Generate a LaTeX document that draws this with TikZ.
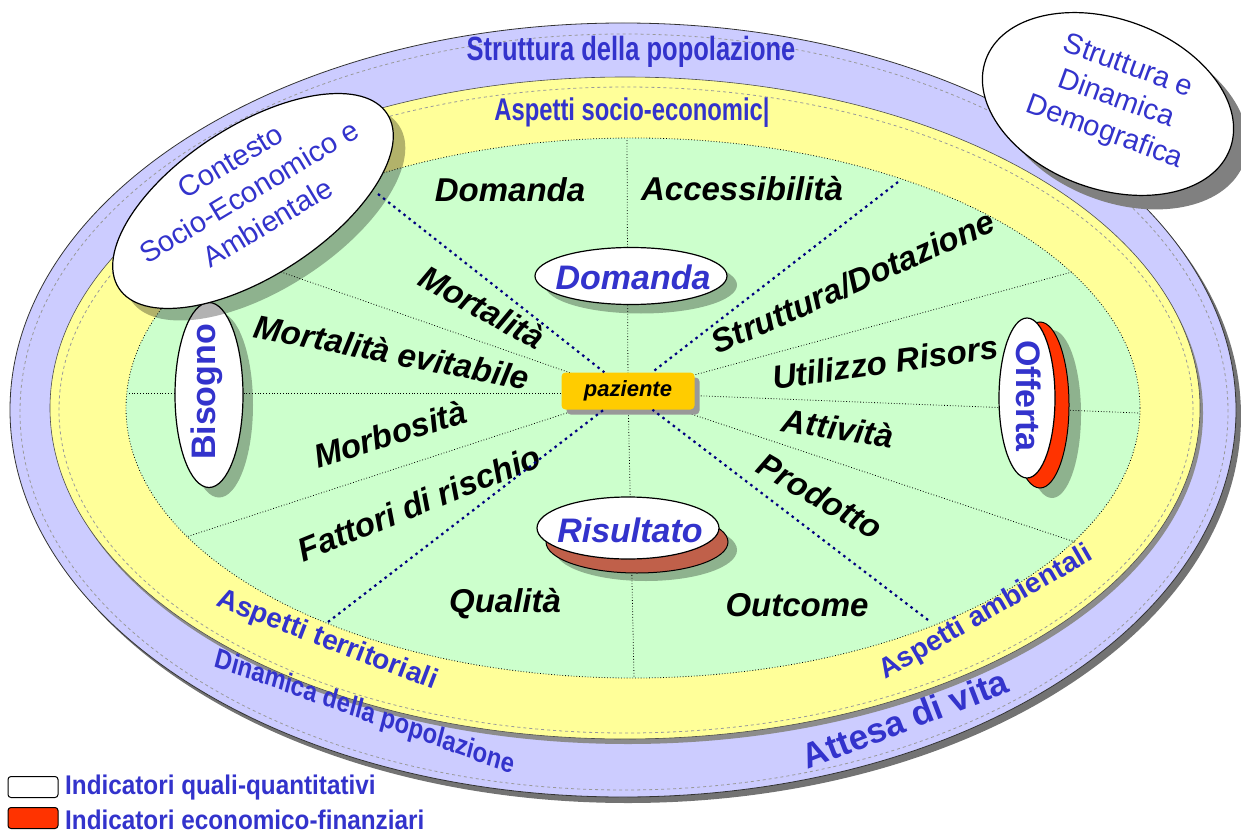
\documentclass[tikz,border=0pt]{standalone}
\usepackage{fontspec}
\setmainfont{Liberation Sans}
\usetikzlibrary{shapes.geometric}
\definecolor{lav}{HTML}{CCCCFF}
\definecolor{yel}{HTML}{FFFF99}
\definecolor{grn}{HTML}{CCFFCC}
\definecolor{tblue}{HTML}{3333CC}
\definecolor{navy}{HTML}{000080}
\definecolor{paz}{HTML}{FFCC00}
\definecolor{rosso}{HTML}{FF3300}
\definecolor{bruno}{HTML}{C0604A}
% [style]{name}{x}{y}{angle}{text}
\newcommand\lbl[6][]{%
  \node[blk,#1,rotate=#5] (#2) at (#3,#4) {#6};}
\begin{document}
\begin{tikzpicture}[x=1pt,y=-1pt,
  ell/.style={ellipse, inner sep=0pt, outer sep=0pt},
  spoke/.style={black, line width=0.8pt, dotted},
  navyline/.style={navy, line width=2.2pt, dash pattern=on 2.5pt off 4pt},
  oval/.style={ell, draw=black, line width=1.2pt, fill=white},
  shadowell/.style={ell, fill=black, fill opacity=0.3},
  blk/.style={font=\fontsize{33}{33}\selectfont\bfseries\itshape, inner sep=0pt},
  bluebig/.style={font=\fontsize{34}{34}\selectfont\bfseries\itshape, text=tblue},
  blueup/.style={font=\fontsize{34}{34}\selectfont\bfseries, text=tblue},
  ringlbl/.style={font=\fontsize{28}{28}\selectfont\bfseries, text=tblue, inner sep=0pt},
  ovaltxt/.style={font=\fontsize{29}{36}\selectfont, text=tblue, align=center},
  legbox/.style={draw=black, line width=1pt, rounded corners=3pt, minimum width=50pt, minimum height=21pt, inner sep=0pt},
  legtxt/.style={font=\fontsize{27}{27}\selectfont\bfseries, text=tblue, anchor=west, xscale=0.9, inner sep=0pt},
]
\useasboundingbox (0,0) rectangle (1241,834);
% ---- outer lavender ring
\node[ell, fill=black!55, minimum width=1226pt, minimum height=774pt] (outersh) at (628,416) {};
\node[ell, fill=lav, draw=black!80, line width=0.8pt, minimum width=1226pt, minimum height=774pt] (outer) at (623,410) {};
\node[ell, draw=black!40, dashed, line width=0.8pt, minimum width=1208pt, minimum height=756pt] (outerd) at (624,412) {};
% ---- yellow ring
\node[ell, fill=black!45, minimum width=1150pt, minimum height=662pt] (yellowsh) at (628,413) {};
\node[ell, fill=yel, draw=black!70, line width=0.6pt, minimum width=1150pt, minimum height=662pt] (yellow) at (625,408) {};
\node[ell, draw=black!40, dashed, line width=0.8pt, minimum width=1134pt, minimum height=646pt] (yellowd) at (626,410) {};
% ---- green core
\node[ell, fill=grn, draw=black, dotted, line width=0.8pt, minimum width=1014pt, minimum height=540pt] (green) at (633,408) {};
% ---- spokes
\coordinate (c) at (628,393);
\coordinate (sUp) at (627,139);
\coordinate (sDn) at (634,677);
\coordinate (sL) at (127,393);
\coordinate (sR) at (1139,413);
\coordinate (sUL) at (221,251);
\coordinate (sLL) at (186,537);
\coordinate (sUR) at (1072,272);
\coordinate (sLR) at (1075,542);
\foreach \p in {sUp,sDn,sL,sR,sUL,sLL,sUR,sLR} \draw[spoke] (c) -- (\p);
% ---- black labels
\lbl{lDom}{510}{190}{0}{Domanda}
\lbl{lAcc}{742}{189}{0}{Accessibilità}
\lbl{lMort}{482}{307}{-29}{Mortalità}
\lbl{lMortEv}{392}{352}{-11}{Mortalità evitabile}
\lbl{lMorb}{390}{434}{17}{Morbosità}
\lbl{lFatt}{419}{503}{22}{Fattori di rischio}
\lbl{lStr}{853}{282}{24}{Struttura/Dotazione}
\lbl{lUti}{885}{362}{8}{Utilizzo Risors}
\lbl{lAtt}{838}{428}{-9}{Attività}
\lbl{lProd}{820}{496}{-30}{Prodotto}
\lbl{lQual}{505}{604}{0}{Qualità}
\lbl{lOut}{797}{605}{0}{Outcome}
% ---- ovals
% Domanda
\node[shadowell, minimum width=192pt, minimum height=57pt] (domS) at (641,285) {};
\node[oval, minimum width=192pt, minimum height=57pt] (domO) at (631,276) {};
\lbl[bluebig]{domT}{633}{277}{0}{Domanda}
% Risultato
\node[shadowell, minimum width=182pt, minimum height=62pt] (risS) at (646,550) {};
\node[ell, fill=bruno, draw=black, line width=1pt, minimum width=182pt, minimum height=62pt] (risB) at (637,542) {};
\node[oval, minimum width=182pt, minimum height=62pt] (risO) at (628,528) {};
\lbl[bluebig]{risT}{630}{530}{0}{Risultato}
% Bisogno
\node[shadowell, minimum width=68pt, minimum height=185pt] (bisS) at (219,405) {};
\node[oval, minimum width=68pt, minimum height=185pt] (bisO) at (209,395) {};
\lbl[blueup]{bisT}{207}{392}{90}{Bisogno}
% Offerta
\node[shadowell, minimum width=58pt, minimum height=168pt] (offS) at (1052,414) {};
\node[ell, fill=rosso, draw=black, line width=1pt, minimum width=58pt, minimum height=166pt] (offR) at (1040,405) {};
\node[oval, minimum width=56pt, minimum height=160pt] (offO) at (1027,398) {};
\lbl[blueup]{offT}{1029}{396}{-90}{Offerta}
% Contesto
\node[shadowell, rotate=33, minimum width=320pt, minimum height=150pt] (conS) at (265,213) {};
\node[oval, rotate=33, minimum width=320pt, minimum height=150pt] (conO) at (253,201) {};
\node[ovaltxt, rotate=31] (conT) at (249,192) {Contesto\\Socio-Economico e\\Ambientale};
% Struttura e Dinamica Demografica
\node[ell, fill=black!50, rotate=-20, minimum width=260pt, minimum height=170pt] (demS) at (1122,118) {};
\node[oval, rotate=-20, minimum width=260pt, minimum height=170pt] (demO) at (1108,104) {};
\node[ovaltxt, rotate=-20, font=\fontsize{29}{35}\selectfont] (demT) at (1116,100) {Struttura e\\Dinamica\\Demografica};
% ---- paziente
\node[fill=black!40, rounded corners=4pt, minimum width=133pt, minimum height=37pt] (pazS) at (633,396) {};
\node[fill=paz, rounded corners=4pt, minimum width=133pt, minimum height=37pt, inner sep=0pt,
      font=\fontsize{22}{22}\selectfont\bfseries\itshape] (paz) at (628,391) {paziente};
% ---- navy diagonals
\coordinate (nUL) at (378,194);
\coordinate (nUR) at (898,182);
\coordinate (nLL) at (328,622);
\coordinate (nLR) at (928,620);
\foreach \p in {nUL,nUR,nLL,nLR} \draw[navyline] (\p) -- (paz);
% ---- ring labels
\node[ringlbl, xscale=0.85, yscale=1.12, font=\fontsize{30}{30}\selectfont\bfseries] (rStr) at (631,52) {Struttura della popolazione};
\node[ringlbl, xscale=0.85, yscale=1.12] (rAsp) at (632,113) {Aspetti socio-economic|};
\node[ringlbl, rotate=-21] (rTer) at (327,641) {Aspetti territoriali};
\node[ringlbl, xscale=0.85, rotate=-17] (rDin) at (365,713) {Dinamica della popolazione};
\node[ringlbl, rotate=30] (rAmb) at (986,613) {Aspetti ambientali};
\node[ringlbl, rotate=21, font=\fontsize{35}{35}\selectfont\bfseries] (rAtt) at (905,719) {Attesa di vita};
% ---- legend
\node[legbox, fill=white] (leg1) at (33,787) {};
\node[legbox, fill=rosso] (leg2) at (33,818) {};
\node[legtxt] (leg1t) at (65,788) {Indicatori quali-quantitativi};
\node[legtxt] (leg2t) at (65,820) {Indicatori economico-finanziari};
\end{tikzpicture}
\end{document}
